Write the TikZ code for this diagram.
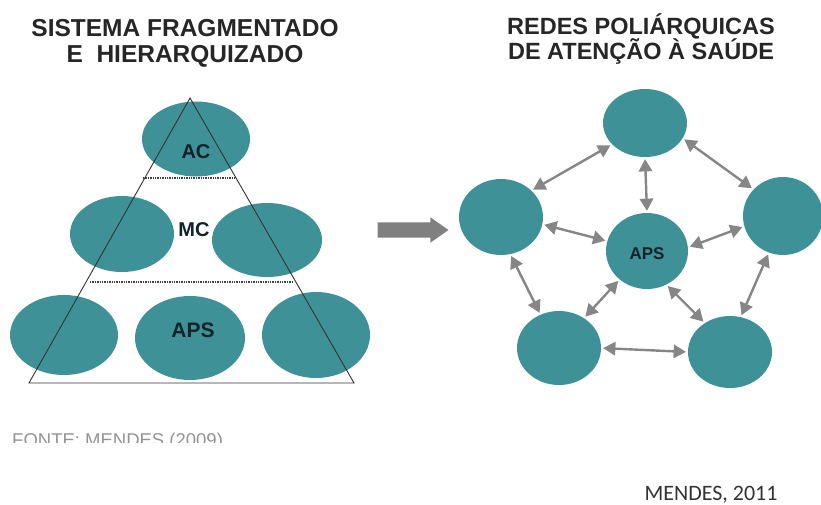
\documentclass[tikz,border=0pt]{standalone}
\usepackage{fontspec}
\setmainfont{Liberation Sans}
\newfontfamily\calfont{Carlito}
\usepackage{tikz}
\usetikzlibrary{shapes,arrows,calc}
\definecolor{cellteal}{RGB}{62,146,151}
\definecolor{linkgray}{RGB}{134,134,134}
\definecolor{labelink}{RGB}{18,34,42}

\begin{document}
\begin{tikzpicture}[%
    x=1pt, y=-1pt,              % pixel-like units, y going down
    >=triangle 60,              % arrow tips for the network links
    every node/.style={inner sep=0pt}]
% -------------------------------------------------
% Styles for both halves
\tikzset{
  cell/.style={ellipse, fill=cellteal, draw=none},
  lbl/.style={font={\bfseries\fontsize{20}{20}\selectfont}, text=labelink},
  ttl/.style={align=center, text=black!85},
  tri/.style={draw=black!80, line width=0.9pt, line join=miter},
  lvl/.style={draw=black!75, densely dotted, line width=1.4pt},
  link/.style={<->, draw=linkgray, line width=2.4pt,
    shorten <=2pt, shorten >=2pt}
}
\useasboundingbox (0,0) rectangle (821,504);

% -------------------------------------------------
% Left: fragmented, hierarchical system
\node [ttl, font={\bfseries\fontsize{24.5}{26}\selectfont\lineskiplimit=-30pt}]
  (tleft) at (185,43) {SISTEMA FRAGMENTADO\\E\ \ HIERARQUIZADO};

\node [cell, minimum width=108, minimum height=75] (ac)   at (196,139) {};
\node [cell, minimum width=104, minimum height=76] (mcl)  at (122,234) {};
\node [cell, minimum width=110, minimum height=74] (mcr)  at (267,240) {};
\node [cell, minimum width=108, minimum height=80] (apsl) at (64,335)  {};
\node [cell, minimum width=110, minimum height=84] (apsm) at (190,338) {};
\node [cell, minimum width=108, minimum height=86] (apsr) at (316,335) {};

% the pyramid goes over the cells
\coordinate (apex) at (190,98);
\coordinate (bl) at (29,383);
\coordinate (br) at (354,383);
\draw [tri] (apex) -- (br) -- (bl) -- cycle;
\draw [lvl] (143,178) -- (235,178);
\draw [lvl] (90,282) -- (293,282);

\node [lbl] (acl)  at (196,152) {AC};
\node [lbl] (mcll) at (194,230) {MC};
\node [lbl, font={\bfseries\fontsize{21}{21}\selectfont}] (apsll) at (193,330) {APS};

% source line, cut at the bottom as in the original
\begin{scope}
  \clip (0,420) rectangle (300,442);
  \node [anchor=base west, text=black!42,
    font={\fontsize{18.5}{18.5}\selectfont}] (fonte) at (12,446)
    {FONTE: MENDES (2009)};
\end{scope}

% -------------------------------------------------
% The big arrow in the middle
\node [single arrow, fill=black!50, minimum height=71, minimum width=25,
  inner sep=7.5pt, single arrow head extend=5pt, single arrow tip angle=70]
  (shift) at (407.5,230) {};

% -------------------------------------------------
% Right: polyarchic network
\node [ttl, font={\bfseries\fontsize{23.5}{25}\selectfont\lineskiplimit=-30pt}]
  (tright) at (641,39) {REDES POLIÁRQUICAS\\DE ATENÇÃO À SAÚDE};

\node [cell, minimum width=84, minimum height=68] (top)  at (645,123) {};
\node [cell, minimum width=84, minimum height=76] (lft)  at (501,217) {};
\node [cell, minimum width=80, minimum height=78] (rgt)  at (783,216) {};
\node [cell, minimum width=82, minimum height=76] (aps)  at (647,251) {};
\node [cell, minimum width=84, minimum height=74] (botl) at (559,348) {};
\node [cell, minimum width=84, minimum height=72] (botr) at (730,352) {};
\node [lbl, font={\bfseries\fontsize{17}{17}\selectfont}] (apsrl) at (647,254) {APS};

% links, anchored at the angles
\foreach \a/\b in {lft.41/top.213, top.270/aps.90, top.338/rgt.138,
                   lft.350/aps.166, aps.5/rgt.195, lft.284/botl.119,
                   aps.226/botl.50, aps.300/botr.131, rgt.249/botr.73,
                   botl.0/botr.180}
  \draw [link] (\a) -- (\b);

\node [anchor=base, text=black!80, font={\calfont\fontsize{22}{22}\selectfont}]
  (src) at (711,500) {MENDES, 2011};
\end{tikzpicture}
\end{document}
